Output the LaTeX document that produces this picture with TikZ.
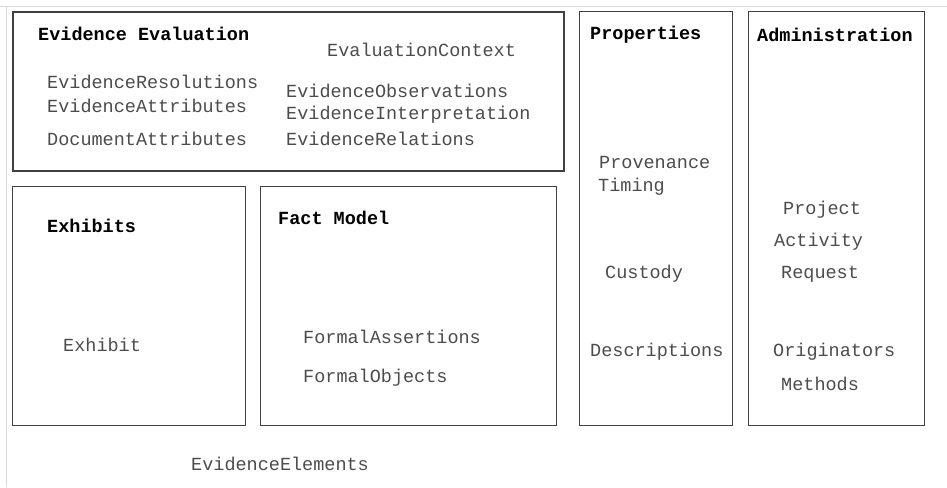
\documentclass[tikz,border=0pt]{standalone}
\usepackage{fontspec}
\setmonofont{Liberation Mono}
\tikzset{
  box/.style={draw=black!75, line width=1.3pt, inner sep=0pt},
  head/.style={anchor=west, inner sep=0pt, font=\ttfamily\bfseries\fontsize{18.5}{20}\selectfont},
  item/.style={anchor=west, inner sep=0pt, text=black!70, font=\ttfamily\fontsize{18.5}{20}\selectfont}
}
\begin{document}
\begin{tikzpicture}[x=1pt,y=-1pt]
  \useasboundingbox (0,0) rectangle (947,487);
  % faint outer frame
  \draw[black!15, line width=1pt] (0,7) -- (947,7);
  \draw[black!15, line width=1pt] (6,7) -- (6,487);
  % boxes
  \node[box, line width=1.8pt, minimum width=551pt, minimum height=159pt, anchor=north west] (evalbox) at (12,11) {};
  \node[box, minimum width=233pt, minimum height=239pt, anchor=north west] (exhbox) at (12,186) {};
  \node[box, minimum width=296pt, minimum height=239pt, anchor=north west] (factbox) at (260,186) {};
  \node[box, minimum width=153pt, minimum height=414pt, anchor=north west] (propbox) at (579,11) {};
  \node[box, minimum width=176pt, minimum height=414pt, anchor=north west] (adminbox) at (748,11) {};
  % Evidence Evaluation
  \node[head] (evalhead) at (38,34) {Evidence Evaluation};
  \node[item] (evalctx) at (327,50) {EvaluationContext};
  \node[item] (evres) at (47,82) {EvidenceResolutions};
  \node[item] (evattr) at (47,106) {EvidenceAttributes};
  \node[item] (docattr) at (47,139) {DocumentAttributes};
  \node[item] (evobs) at (286,91) {EvidenceObservations};
  \node[item] (evint) at (286,115) {EvidenceInterpretation};
  \node[item] (evrel) at (286,139) {EvidenceRelations};
  % Properties
  \node[head] (prophead) at (590,35) {Properties};
  \node[item] (prov) at (599,162) {Provenance};
  \node[item] (timing) at (598,187) {Timing};
  \node[item] (custody) at (605,274) {Custody};
  \node[item] (descr) at (590,352) {Descriptions};
  % Administration
  \node[head] (adminhead) at (757,35) {Administration};
  \node[item] (project) at (783,210) {Project};
  \node[item] (activity) at (774,242) {Activity};
  \node[item] (request) at (781,274) {Request};
  \node[item] (orig) at (773,352) {Originators};
  \node[item] (methods) at (781,384) {Methods};
  % Exhibits
  \node[head] (exhhead) at (47,226) {Exhibits};
  \node[item] (exhibit) at (63,345) {Exhibit};
  % Fact Model
  \node[head] (facthead) at (278,218) {Fact Model};
  \node[item] (fassert) at (303,337) {FormalAssertions};
  \node[item] (fobj) at (303,378) {FormalObjects};
  % caption
  \node[item] (evelem) at (191,464) {EvidenceElements};
\end{tikzpicture}
\end{document}
